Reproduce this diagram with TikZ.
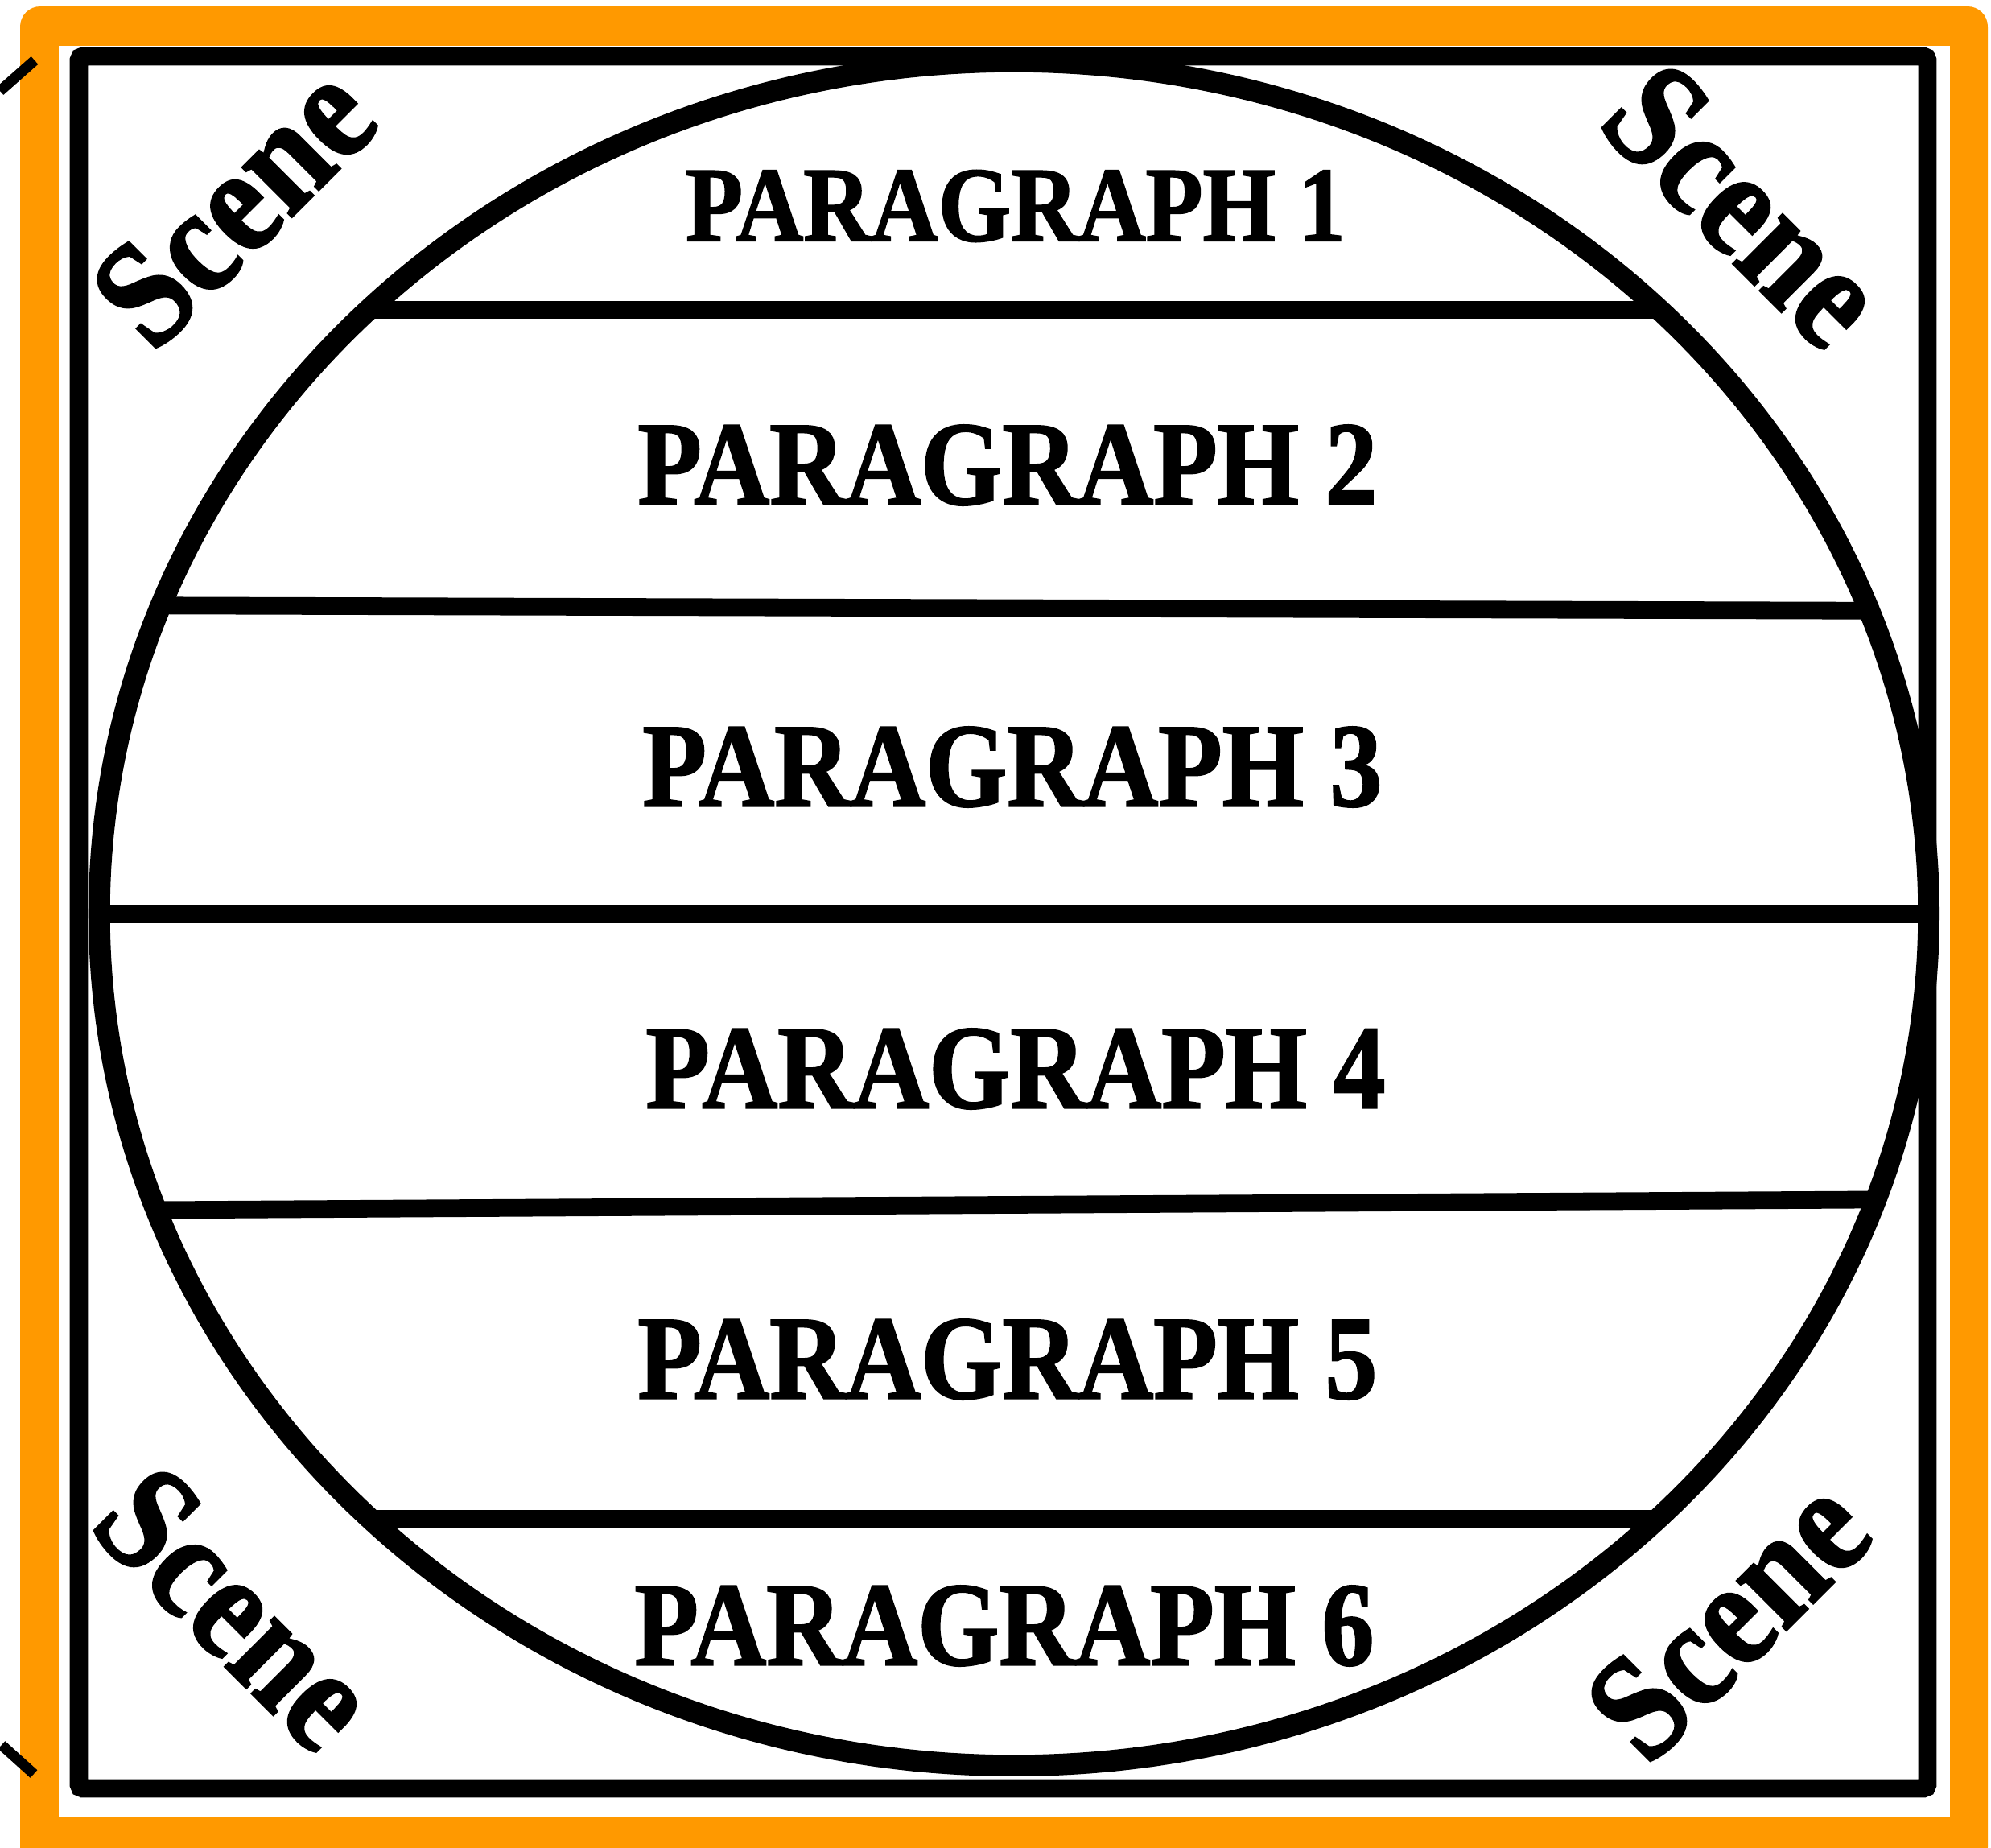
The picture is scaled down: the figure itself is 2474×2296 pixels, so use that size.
\documentclass[tikz,border=0pt]{standalone}
\usepackage{fontspec}
\setmainfont{Liberation Serif}[BoldFont={Liberation Serif Bold}]
\newfontfamily\heavyserif{Liberation Serif Bold}[FakeBold=1.6]
\definecolor{frameorange}{RGB}{255,153,0}
\begin{document}
\begin{tikzpicture}[x=0.01cm,y=-0.01cm,
  para/.style={font=\heavyserif\fontsize{37}{40}\selectfont, inner sep=0pt},
  parasmall/.style={font=\heavyserif\fontsize{33}{36}\selectfont, inner sep=0pt},
  scenelbl/.style={font=\heavyserif\fontsize{47}{50}\selectfont, inner sep=0pt},
  divider/.style={line width=6.2pt},
  ring/.style={line width=7.6pt},
  boxline/.style={line width=6.5pt, rounded corners=0.05cm},
  tick/.style={line width=3.7pt}]
\useasboundingbox (0,0) rectangle (2474,2296);
\fill[white] (0,0) rectangle (2474,2296);
% orange frame
\fill[frameorange, rounded corners=0.25cm] (25,8) rectangle (2470,2320);
\fill[white] (73,57) rectangle (2423,2257);
% black box
\draw[boxline] (98,70) rectangle (2395,2222);
% dividers clipped to the ellipse
\begin{scope}
  \clip (1260,1135) ellipse [x radius=11.36cm, y radius=10.58cm];
  \draw[divider] (0,385) -- (2474,385);
  \draw[divider] (100,752) -- (2400,759);
  \draw[divider] (0,1136) -- (2474,1136);
  \draw[divider] (100,1504) -- (2400,1490);
  \draw[divider] (0,1887) -- (2474,1887);
\end{scope}
% ellipse
\draw[ring] (1260,1135) ellipse [x radius=11.36cm, y radius=10.58cm];
% labels
\node[parasmall] (p1) at (1262,256) {\scalebox{1}[1.14]{PARAGRAPH 1}};
\node[para] (p2) at (1252,578) {\scalebox{1}[1.14]{PARAGRAPH 2}};
\node[para] (p3) at (1258,953) {\scalebox{1}[1.14]{PARAGRAPH 3}};
\node[para] (p4) at (1262,1328) {\scalebox{1}[1.14]{PARAGRAPH 4}};
\node[para] (p5) at (1252,1689) {\scalebox{1}[1.14]{PARAGRAPH 5}};
\node[para] (p6) at (1248,2020) {\scalebox{1}[1.14]{PARAGRAPH 6}};
\node[scenelbl, rotate=45] (s1) at (290,255) {\scalebox{1}[1.14]{Scene}};
\node[scenelbl, rotate=-45] (s2) at (2168,255) {\scalebox{1}[1.14]{Scene}};
\node[scenelbl, rotate=-45] (s3) at (294,1998) {\scalebox{1}[1.14]{Scene}};
\node[scenelbl, rotate=45] (s4) at (2147,2011) {\scalebox{1}[1.14]{Scene}};
% tick marks
\draw[tick] (0,113) -- (43,75);
\draw[tick] (2,2168) -- (42,2204);
\end{tikzpicture}
\end{document}
